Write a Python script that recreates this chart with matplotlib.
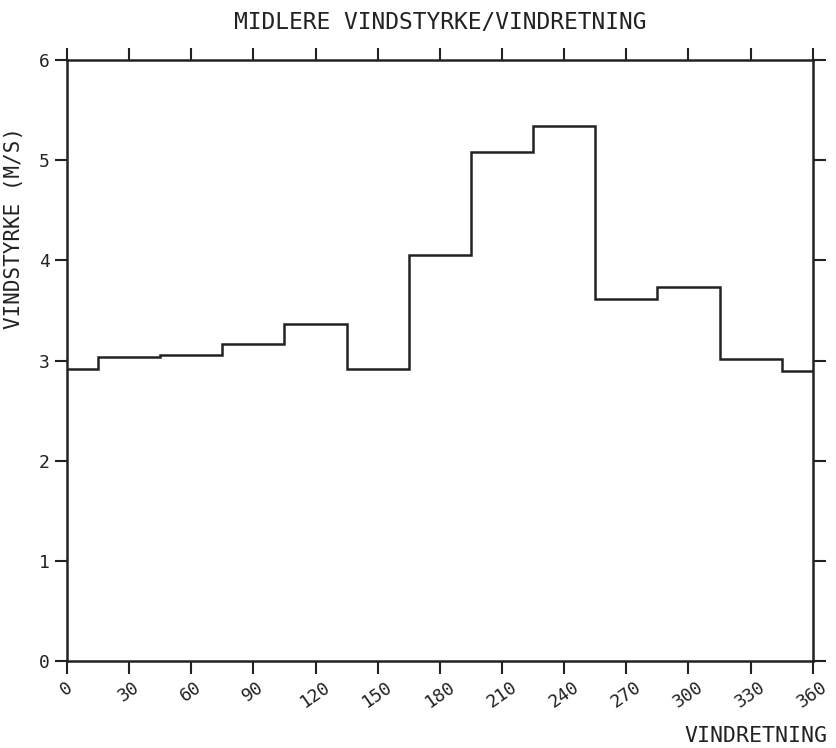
import numpy as np
import matplotlib.pyplot as plt

# mean wind speed per 30 degree sector, first/last half-sectors around north
edges = [0, 15, 45, 75, 105, 135, 165, 195, 225, 255, 285, 315, 345, 360]
speed = [2.92, 3.04, 3.06, 3.16, 3.36, 2.92, 4.05, 5.08, 5.34, 3.61, 3.73, 3.02, 2.90]
xticks = list(range(0, 361, 30))
yticks = [0, 1, 2, 3, 4, 5, 6]

plt.rcParams['font.family'] = ['DejaVu Sans Mono']
ink = '#222222'

fig = plt.figure(figsize=(8.37, 7.48), dpi=100)
ax = fig.add_axes([0.080, 0.116, 0.891, 0.804])

ax.stairs(speed, edges, color=ink, linewidth=1.8, baseline=None)

ax.set_xlim(0, 360)
ax.set_ylim(0, 6)
ax.set_xticks(xticks)
ax.set_yticks(yticks)
ax.set_xticklabels([str(t) for t in xticks], rotation=35, ha='center', fontsize=13)
ax.set_yticklabels([str(t) for t in yticks], fontsize=13)
ax.tick_params(direction='out', length=9, width=1.5, color=ink, labelcolor=ink,
               top=True, right=True, labeltop=False, labelright=False)
ax.tick_params(axis='x', pad=3)
for s in ax.spines.values():
    s.set_linewidth(1.8)
    s.set_color(ink)

ax.set_title('MIDLERE VINDSTYRKE/VINDRETNING', fontsize=16.5, color=ink, pad=22)
ax.set_ylabel('VINDSTYRKE (M/S)', fontsize=15, color=ink)
ax.yaxis.set_label_coords(-0.058, 0.72)
ax.text(1.02, -0.108, 'VINDRETNING', transform=ax.transAxes, ha='right', va='top',
        fontsize=15.5, color=ink)

fig.savefig('out.png', dpi=100, facecolor='white')
